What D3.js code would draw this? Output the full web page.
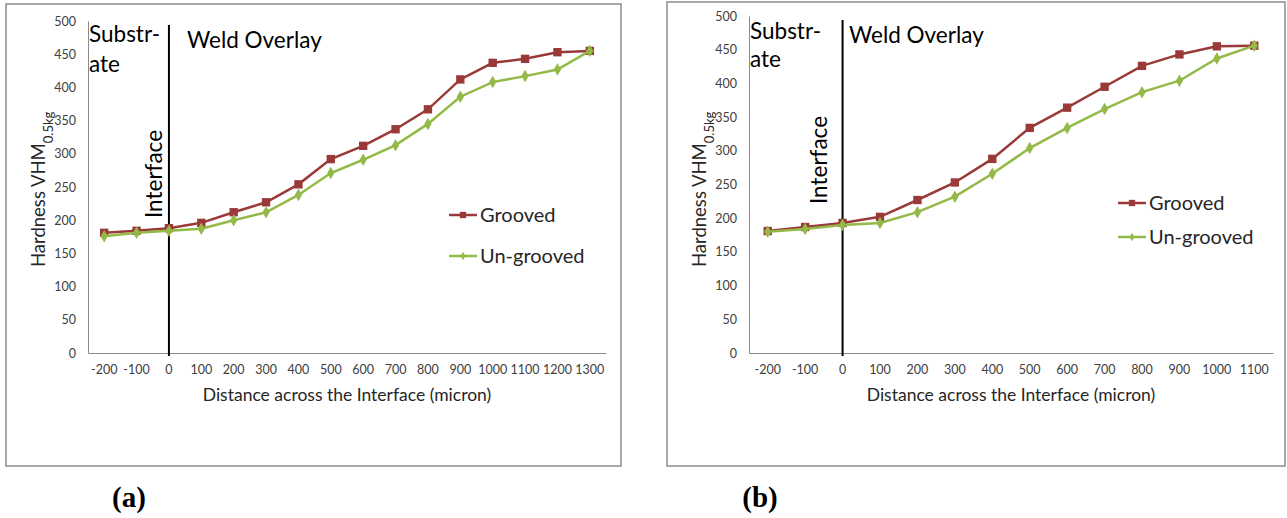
<!DOCTYPE html>
<html lang="en">
<head>
    <meta charset="UTF-8">
    <script src="https://d3js.org/d3.v7.min.js" charset="utf-8"></script>
    <title>Hardness profiles</title>
    <style>
        body { margin: 0; background: white; }
        svg text { font-family: Lato, "Open Sans", sans-serif; }
    </style>
</head>
<body>
<div id="chart"></div>

<script>
    // distances (micron) for each panel
    const distancesA = [-200, -100, 0, 100, 200, 300, 400, 500, 600, 700, 800, 900, 1000, 1100, 1200, 1300];
    const distancesB = [-200, -100, 0, 100, 200, 300, 400, 500, 600, 700, 800, 900, 1000, 1100];

    // hardness values
    const groovedA   = [181, 184, 188, 196, 212, 227, 254, 292, 312, 337, 367, 412, 437, 443, 453, 455];
    const ungroovedA = [176, 181, 184, 187, 200, 212, 238, 271, 291, 313, 345, 386, 408, 417, 427, 455];
    const groovedB   = [181, 187, 193, 202, 227, 253, 288, 334, 364, 395, 426, 443, 455, 456];
    const ungroovedB = [180, 184, 190, 193, 209, 232, 266, 304, 334, 362, 387, 404, 437, 456];

    const yTicks = [0, 50, 100, 150, 200, 250, 300, 350, 400, 450, 500];
    const seriesNames = ["Grooved", "Un-grooved"];
    const panelLabels = ["(a)", "(b)"];

    const redColor = "#9a3a38";
    const greenColor = "#93b947";

    const svg = d3.select("#chart").append("svg")
        .attr("width", 1287)
        .attr("height", 518);

    const panels = [
        {
            cats: distancesA, series: [groovedA, ungroovedA], label: panelLabels[0],
            frame: [6, 4, 621, 466], plot: [88, 606, 21, 353],
            substr: [89, 42, 72], weld: [187, 48], iface: [-7, 174],
            legendX: 449, legendY: [215, 256], labelX: 129
        },
        {
            cats: distancesB, series: [groovedB, ungroovedB], label: panelLabels[1],
            frame: [667, 2, 1285, 466], plot: [749, 1273, 16, 353],
            substr: [750, 39, 67], weld: [849, 43], iface: [-16, 160],
            legendX: 1118, legendY: [203, 237], labelX: 760
        }
    ];

    const drawPanel = (p) => {
        const [fx0, fy0, fx1, fy1] = p.frame;
        const [px0, px1, py0, py1] = p.plot;

        // outer chart border
        svg.append("rect")
            .attr("x", fx0).attr("y", fy0)
            .attr("width", fx1 - fx0).attr("height", fy1 - fy0)
            .attr("fill", "white")
            .attr("stroke", "#8c8c8c")
            .attr("stroke-width", 1.5);

        const x = d3.scaleBand()
            .domain(p.cats)
            .range([px0, px1])
            .padding(0);
        const cx = d => x(d) + x.bandwidth() / 2;

        const y = d3.scaleLinear()
            .domain([0, 500])
            .range([py1, py0]);

        // y axis
        const yAxis = svg.append("g")
            .attr("transform", `translate(${px0},0)`)
            .call(d3.axisLeft(y).tickValues(yTicks).tickSize(0).tickPadding(12));
        yAxis.select(".domain").attr("stroke", "#8a8a8a");
        yAxis.selectAll("text")
            .attr("fill", "#404040")
            .style("font-size", "12.5px");

        // x axis
        const xAxis = svg.append("g")
            .attr("transform", `translate(0,${py1})`)
            .call(d3.axisBottom(x).tickSize(0).tickPadding(12));
        xAxis.select(".domain").attr("stroke", "#8a8a8a");
        xAxis.selectAll("text")
            .attr("fill", "#404040")
            .style("font-size", "12.5px");

        // axis titles
        svg.append("text")
            .attr("x", (px0 + px1) / 2)
            .attr("y", py1 + 48)
            .attr("text-anchor", "middle")
            .attr("fill", "#262626")
            .style("font-size", "17.5px")
            .text("Distance across the Interface (micron)");

        const yTitle = svg.append("text")
            .attr("transform", `translate(${px0 - 43},${py1 - 86}) rotate(-90)`)
            .attr("text-anchor", "start")
            .attr("fill", "#262626")
            .style("font-size", "18.5px");
        yTitle.append("tspan").text("Hardness VHM");
        yTitle.append("tspan")
            .attr("baseline-shift", "sub")
            .style("font-size", "13px")
            .text("0.5kg");

        // interface line
        svg.append("line")
            .attr("x1", cx(0)).attr("x2", cx(0))
            .attr("y1", py0 + 4).attr("y2", py1 + 3)
            .attr("stroke", "black")
            .attr("stroke-width", 2);

        // annotations
        svg.append("text")
            .attr("x", p.substr[0]).attr("y", p.substr[1])
            .attr("fill", "black")
            .style("font-size", "22.5px")
            .text("Substr-");
        svg.append("text")
            .attr("x", p.substr[0]).attr("y", p.substr[2])
            .attr("fill", "black")
            .style("font-size", "22.5px")
            .text("ate");
        svg.append("text")
            .attr("x", p.weld[0]).attr("y", p.weld[1])
            .attr("fill", "black")
            .style("font-size", "22.5px")
            .text("Weld Overlay");
        svg.append("text")
            .attr("transform", `translate(${cx(0) + p.iface[0]},${p.iface[1]}) rotate(-90)`)
            .attr("text-anchor", "middle")
            .attr("fill", "black")
            .style("font-size", "22.5px")
            .text("Interface");

        const line = d3.line()
            .x((d, i) => cx(p.cats[i]))
            .y(d => y(d));

        const colors = [redColor, greenColor];
        const squareSym = d3.symbol().type(d3.symbolSquare);
        const diamondSym = d3.symbol().type(d3.symbolDiamond);

        p.series.forEach((values, si) => {
            svg.append("path")
                .datum(values)
                .attr("d", line)
                .attr("fill", "none")
                .attr("stroke", colors[si])
                .attr("stroke-width", 2.5);

            svg.selectAll(null)
                .data(values)
                .enter()
                .append("path")
                .attr("transform", (d, i) => `translate(${cx(p.cats[i])},${y(d)})`)
                .attr("d", si === 0 ? squareSym.size(70)() : diamondSym.size(45)())
                .attr("fill", colors[si]);
        });

        // legend
        seriesNames.forEach((name, si) => {
            const ly = p.legendY[si];
            svg.append("line")
                .attr("x1", p.legendX).attr("x2", p.legendX + 28)
                .attr("y1", ly).attr("y2", ly)
                .attr("stroke", colors[si])
                .attr("stroke-width", 2.5);
            svg.append("path")
                .attr("transform", `translate(${p.legendX + 14},${ly})`)
                .attr("d", si === 0 ? squareSym.size(40)() : diamondSym.size(22)())
                .attr("fill", colors[si]);
            svg.append("text")
                .attr("x", p.legendX + 31)
                .attr("y", ly + 7)
                .attr("fill", "#262626")
                .style("font-size", "20px")
                .text(name);
        });

        // panel label
        svg.append("text")
            .attr("x", p.labelX)
            .attr("y", 507)
            .attr("text-anchor", "middle")
            .attr("fill", "black")
            .style("font-family", "'Liberation Serif', serif")
            .style("font-weight", "bold")
            .style("font-size", "29px")
            .text(p.label);
    };

    panels.forEach(drawPanel);
</script>
</body>
</html>
